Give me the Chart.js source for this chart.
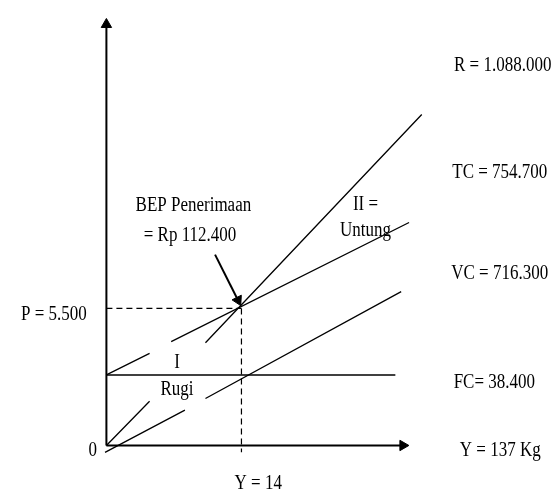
<!DOCTYPE html>
<html>
<head>
<meta charset="utf-8">
<script src="https://cdn.jsdelivr.net/npm/chart.js@4.4.1/dist/chart.umd.min.js"></script>
<style>
  html, body { margin: 0; background: #fff; }
  canvas { display: block; }
</style>
</head>
<body>
<canvas id="chartBep" width="559" height="497"></canvas>
<script>
// Break-even diagram. Schematic units (x = quantity, y = rupiah).
// A [x, null] entry breaks the line (the original leaves gaps around the labels).
const revenueLine = [[0, 0], [12.6, 12.9], [20, null], [28.9, 30], [92, 96.6]];
const totalCostLine = [[0, 20.6], [12.6, 26.9], [15, null], [18.9, 30.3], [88.3, 65.1]];
const variableCostLine = [[-0.4, -2], [22.9, 10.3], [25, null], [28.9, 13.7], [86, 44.9]];
const fixedCostLine = [[0, 20.6], [84.3, 20.6]];
const bepGuideH = [[0, 40], [39.4, 40]];
const bepGuideV = [[39.4, 40], [39.4, -2]];
const bepArrow = [[31.7, 55.7], [38.4, 42.4]];
const yAxisLine = [[0, 0], [0, 122.9]];
const xAxisLine = [[0, 0], [86.5, 0]];

// text labels: [text, x, y, align]
const rightLabels = [
    ['R = 1.088.000', 101.4, 109.4, 'left'],
    ['TC = 754.700', 100.9, 78, 'left'],
    ['VC = 716.300', 100.6, 48.7, 'left'],
    ['FC= 38.400', 101.3, 16.9, 'left'],
    ['Y = 137 Kg', 103.1, -3.1, 'left'],
];
const axisLabels = [
    ['0', -4, -3.1, 'center'],
    ['P = 5.500', -5.7, 36.6, 'right'],
    ['Y = 14', 37.4, -12.6, 'left'],
];
const areaLabels = [
    ['I', 20.6, 22.7, 'center'],
    ['Rugi', 20.6, 14.6, 'center'],
    ['II =', 75.6, 68.7, 'center'],
    ['Untung', 75.6, 61.2, 'center'],
    ['BEP Penerimaan', 8.5, 68.4, 'left'],
    ['= Rp 112.400', 10.9, 59.8, 'left'],
];

const toPoints = arr => arr.map(p => ({ x: p[0], y: p[1] }));

function lineSet(arr, width, extra) {
    return Object.assign({
        data: toPoints(arr),
        showLine: true,
        borderColor: '#000',
        backgroundColor: '#000',
        borderWidth: width,
        pointRadius: 0,
        spanGaps: false,
        clip: false,
    }, extra || {});
}

function arrowSet(arr, width, rotation) {
    return lineSet(arr, width, {
        pointRadius: [0, 6],
        pointStyle: 'triangle',
        pointRotation: [0, rotation],
        pointBorderWidth: 1,
    });
}

// the original text is a narrow Times face, so squeeze it horizontally
const textPlugin = {
    id: 'bepText',
    afterDatasetsDraw(chart) {
        const { ctx, scales } = chart;
        ctx.save();
        ctx.fillStyle = '#000';
        ctx.font = '20px "Liberation Serif", "Times New Roman", serif';
        ctx.textBaseline = 'alphabetic';
        [...rightLabels, ...axisLabels, ...areaLabels].forEach(([text, x, y, align]) => {
            ctx.save();
            ctx.translate(scales.x.getPixelForValue(x), scales.y.getPixelForValue(y));
            ctx.scale(0.85, 1);
            ctx.textAlign = align;
            ctx.fillText(text, 0, 0);
            ctx.restore();
        });
        ctx.restore();
    },
};

new Chart(document.getElementById('chartBep').getContext('2d'), {
    type: 'scatter',
    data: {
        datasets: [
            arrowSet(yAxisLine, 2, 0),
            arrowSet(xAxisLine, 2, 90),
            lineSet(fixedCostLine, 1.5),
            lineSet(revenueLine, 1.3),
            lineSet(totalCostLine, 1.3),
            lineSet(variableCostLine, 1.3),
            lineSet(bepGuideH, 1.2, { borderDash: [6, 4] }),
            lineSet(bepGuideV, 1.2, { borderDash: [6, 4] }),
            arrowSet(bepArrow, 2, 153.4),
        ],
    },
    options: {
        responsive: false,
        animation: false,
        devicePixelRatio: 1,
        layout: { padding: { left: 0.5, right: 2, top: 3, bottom: 0.5 } },
        scales: {
            x: { type: 'linear', min: -29, max: 130, display: false },
            y: { type: 'linear', min: -13, max: 128, display: false },
        },
        plugins: {
            legend: { display: false },
            tooltip: { enabled: false },
        },
    },
    plugins: [textPlugin],
});
</script>
</body>
</html>
